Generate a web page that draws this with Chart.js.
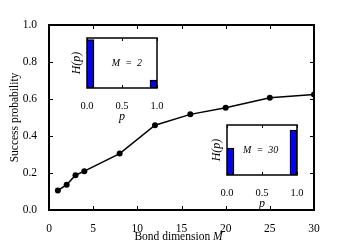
<!DOCTYPE html>
<html>
<head>
<meta charset="utf-8">
<script src="https://cdn.jsdelivr.net/npm/chart.js@4.4.1/dist/chart.umd.min.js"></script>
<style>
  html, body { margin: 0; padding: 0; background: #fff; }
  #wrap { position: relative; width: 350px; height: 250px; }
  canvas { position: absolute; }
</style>
</head>
<body>
<div id="wrap">
  <canvas id="mainChart" width="350" height="250" style="left:0;top:0"></canvas>
  <canvas id="insetM2" width="110" height="95" style="left:59px;top:30px"></canvas>
  <canvas id="insetM30" width="110" height="95" style="left:199px;top:117px"></canvas>
</div>
<script>
// Datos del grafico principal
const bondDims = [1, 2, 3, 4, 8, 12, 16, 20, 25, 30];
const successProb = [0.105, 0.137, 0.188, 0.21, 0.305, 0.458, 0.517, 0.553, 0.607, 0.624];
const xTickVals = [0, 5, 10, 15, 20, 25, 30];
const yTickVals = [0, 0.2, 0.4, 0.6, 0.8, 1.0];

// Histogramas de los insets (10 bins en p)
const pBins = [0.05, 0.15, 0.25, 0.35, 0.45, 0.55, 0.65, 0.75, 0.85, 0.95];
const histM2 = [0.97, null, null, null, null, null, null, null, null, 0.156];
const histM30 = [0.54, null, null, null, null, null, null, null, null, 0.90];
const pTickVals = [0, 0.5, 1];
const insetNotes = ['M\u2002=\u20022', 'M\u2002=\u200230'];

const serif = "'Liberation Serif', 'DejaVu Serif', serif";

// marco, ticks hacia dentro y textos extra
const frameTicks = {
    id: 'frameTicks',
    beforeDraw(chart) {
        const { ctx, chartArea: a } = chart;
        ctx.save();
        ctx.fillStyle = '#fff';
        ctx.fillRect(a.left, a.top, a.width, a.height);
        ctx.restore();
    },
    afterDraw(chart, args, opts) {
        const { ctx, chartArea: a, scales } = chart;
        const len = opts.len;
        ctx.save();
        ctx.strokeStyle = '#000';
        ctx.lineWidth = 1;
        ctx.beginPath();
        scales.x.ticks.forEach(t => {
            const px = Math.round(scales.x.getPixelForValue(t.value)) + 0.5;
            ctx.moveTo(px, a.bottom); ctx.lineTo(px, a.bottom - len);
            ctx.moveTo(px, a.top); ctx.lineTo(px, a.top + len);
        });
        if (opts.yTicks) {
            scales.y.ticks.forEach(t => {
                const py = Math.round(scales.y.getPixelForValue(t.value)) + 0.5;
                ctx.moveTo(a.left, py); ctx.lineTo(a.left + len, py);
                ctx.moveTo(a.right, py); ctx.lineTo(a.right - len, py);
            });
        }
        ctx.stroke();
        ctx.lineWidth = opts.frame;
        ctx.strokeRect(a.left, a.top, a.width, a.height);

        ctx.fillStyle = '#000';
        if (opts.note) {
            ctx.font = 'italic 10px ' + serif;
            ctx.textAlign = 'center';
            ctx.textBaseline = 'middle';
            ctx.fillText(opts.note.text, scales.x.getPixelForValue(opts.note.x), scales.y.getPixelForValue(opts.note.y));
        }
        if (opts.xTitle) {
            // "Bond dimension" + M en cursiva
            const t1 = 'Bond dimension ';
            const t2 = 'M';
            ctx.textBaseline = 'middle';
            ctx.textAlign = 'left';
            ctx.font = '11.5px ' + serif;
            const w1 = ctx.measureText(t1).width;
            ctx.font = 'italic 11.5px ' + serif;
            const w2 = ctx.measureText(t2).width;
            const x0 = (a.left + a.right) / 2 - (w1 + w2) / 2 - 3;
            ctx.font = '11.5px ' + serif;
            ctx.fillText(t1, x0, 237);
            ctx.font = 'italic 11.5px ' + serif;
            ctx.fillText(t2, x0 + w1, 237);
        }
        ctx.restore();
    }
};

const mainChart = new Chart(document.getElementById('mainChart'), {
    type: 'line',
    data: {
        datasets: [{
            data: bondDims.map((m, i) => ({ x: m, y: successProb[i] })),
            borderColor: '#000',
            borderWidth: 1.5,
            pointRadius: 3,
            pointBackgroundColor: '#000',
            pointBorderWidth: 0,
            tension: 0,
            fill: false
        }]
    },
    options: {
        responsive: false,
        animation: false,
        layout: { padding: { top: 25, right: 36, left: 0, bottom: 0 } },
        plugins: {
            legend: { display: false },
            tooltip: { enabled: false },
            frameTicks: { len: 4, yTicks: true, frame: 2, xTitle: true }
        },
        scales: {
            x: {
                type: 'linear',
                min: 0,
                max: 30,
                grid: { display: false },
                border: { display: false },
                afterBuildTicks: s => { s.ticks = xTickVals.map(v => ({ value: v })); },
                afterFit: s => { s.height = 40; },
                ticks: { font: { family: serif, size: 11.5 }, color: '#000', padding: 4, maxRotation: 0 }
            },
            y: {
                min: 0,
                max: 1,
                grid: { display: false },
                border: { display: false },
                afterBuildTicks: s => { s.ticks = yTickVals.map(v => ({ value: v })); },
                afterFit: s => { s.width = 49; },
                ticks: { font: { family: serif, size: 11.5 }, color: '#000', padding: 4, callback: v => v.toFixed(1) },
                title: {
                    display: true,
                    text: 'Success probability',
                    font: { family: serif, size: 11.5 },
                    color: '#000',
                    padding: { top: 8, bottom: 0 }
                }
            }
        }
    },
    plugins: [frameTicks]
});

function makeInset(id, values, note, noteX) {
    return new Chart(document.getElementById(id), {
        type: 'bar',
        data: {
            datasets: [{
                data: pBins.map((p, i) => ({ x: p, y: values[i] })),
                backgroundColor: '#0000ff',
                borderColor: '#000',
                borderWidth: 1.5,
                borderSkipped: false,
                barPercentage: 1,
                categoryPercentage: 1
            }]
        },
        options: {
            responsive: false,
            animation: false,
            layout: { padding: { top: 8, right: 12, left: 0, bottom: 0 } },
            plugins: {
                legend: { display: false },
                tooltip: { enabled: false },
                frameTicks: { len: 3, yTicks: false, frame: 1.5, note: { text: note, x: noteX, y: 0.5 } }
            },
            scales: {
                x: {
                    type: 'linear',
                    min: 0,
                    max: 1,
                    offset: false,
                    grid: { display: false },
                    border: { display: false },
                    afterBuildTicks: s => { s.ticks = pTickVals.map(v => ({ value: v })); },
                    afterFit: s => { s.height = 37; },
                    ticks: { font: { family: serif, size: 10.5 }, color: '#000', padding: 4, maxRotation: 0, callback: v => v.toFixed(1) },
                    title: {
                        display: true,
                        text: 'p',
                        font: { family: serif, size: 12, style: 'italic' },
                        color: '#000',
                        padding: { top: 0, bottom: 1 }
                    }
                },
                y: {
                    min: 0,
                    max: 1,
                    grid: { display: false },
                    border: { display: false },
                    ticks: { display: false },
                    afterFit: s => { s.width = 28; },
                    title: {
                        display: true,
                        text: 'H(p)',
                        font: { family: serif, size: 12, style: 'italic' },
                        color: '#000',
                        padding: { top: 11, bottom: 0 }
                    }
                }
            }
        },
        plugins: [frameTicks]
    });
}

const insetA = makeInset('insetM2', histM2, insetNotes[0], 0.57);
const insetB = makeInset('insetM30', histM30, insetNotes[1], 0.48);
</script>
</body>
</html>
